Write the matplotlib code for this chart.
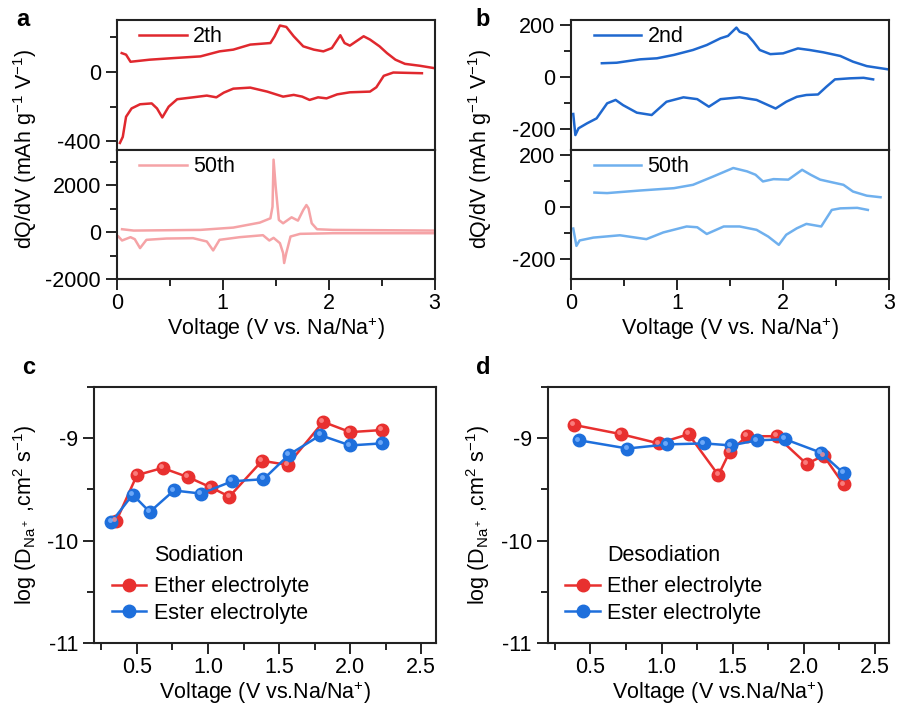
import numpy as np
import matplotlib
matplotlib.use('Agg')
import matplotlib.pyplot as plt
import matplotlib.transforms as mtransforms
from matplotlib.ticker import MultipleLocator

plt.rcParams['font.family'] = ['Liberation Sans', 'DejaVu Sans']
plt.rcParams['mathtext.fontset'] = 'custom'
plt.rcParams['mathtext.rm'] = 'Liberation Sans'
plt.rcParams['mathtext.it'] = 'Liberation Sans:italic'
plt.rcParams['axes.unicode_minus'] = False

# ---- panel a: dQ/dV, 2th cycle ----
a2_chg_v = [0.047, 0.088, 0.13, 0.31, 0.53, 0.79, 0.97, 1.10, 1.26, 1.45, 1.49, 1.54, 1.60, 1.67, 1.76,
            1.86, 1.95, 2.03, 2.11, 2.15, 2.20, 2.26, 2.33, 2.39, 2.48, 2.55, 2.63, 2.72, 2.86, 3.0]
a2_chg_q = [108, 99, 58, 70, 79, 89, 118, 128, 157, 166, 205, 267, 259, 205, 147,
            128, 118, 137, 211, 166, 151, 176, 205, 186, 147, 108, 70, 46, 35, 21]
a2_dis_v = [0.03, 0.057, 0.088, 0.14, 0.22, 0.33, 0.38, 0.43, 0.49, 0.57, 0.72, 0.85, 0.94, 1.01, 1.10,
            1.26, 1.42, 1.57, 1.67, 1.75, 1.82, 1.90, 1.98, 2.08, 2.20, 2.39, 2.45, 2.52, 2.61, 2.88]
a2_dis_q = [-410, -375, -259, -211, -187, -182, -211, -263, -201, -158, -147, -137, -147, -120, -97,
            -91, -114, -143, -133, -143, -162, -147, -153, -130, -118, -114, -89, -23, -4, -8]

# ---- panel a: dQ/dV, 50th cycle ----
a50_chg_v = [0.05, 0.16, 0.79, 1.10, 1.35, 1.45, 1.47, 1.48, 1.50, 1.53, 1.57, 1.65, 1.71, 1.76, 1.79,
             1.81, 1.84, 1.89, 2.04, 3.0]
a50_chg_q = [127, 70, 99, 197, 408, 591, 1084, 3084, 1929, 521, 380, 634, 493, 943, 1155,
             1014, 380, 127, 99, 70]
a50_dis_v = [0.016, 0.05, 0.13, 0.17, 0.22, 0.28, 0.47, 0.72, 0.85, 0.91, 0.97, 1.16, 1.38, 1.44, 1.48,
             1.54, 1.57, 1.58, 1.60, 1.64, 1.73, 2.04, 3.0]
a50_dis_q = [-183, -352, -211, -296, -676, -324, -268, -253, -394, -774, -324, -211, -127, -352, -239,
             -465, -887, -1310, -887, -183, -70, -42, -42]

# ---- panel b: dQ/dV, 2nd cycle ----
b2_chg_v = [0.29, 0.43, 0.65, 0.81, 0.97, 1.15, 1.28, 1.41, 1.48, 1.56, 1.59, 1.66, 1.72, 1.78, 1.88,
            2.00, 2.14, 2.25, 2.38, 2.54, 2.66, 2.79, 3.0]
b2_chg_q = [53, 55, 68, 72, 85, 104, 123, 149, 158, 190, 174, 164, 136, 104, 88,
            91, 110, 104, 95, 81, 59, 42, 29]
b2_dis_v = [0.02, 0.04, 0.07, 0.15, 0.24, 0.34, 0.42, 0.49, 0.62, 0.76, 0.90, 1.06, 1.19, 1.30, 1.41,
            1.59, 1.75, 1.93, 2.03, 2.13, 2.22, 2.33, 2.41, 2.49, 2.63, 2.76, 2.85]
b2_dis_q = [-142, -223, -197, -178, -159, -101, -88, -108, -137, -146, -95, -78, -85, -114, -85,
            -78, -88, -121, -95, -76, -69, -67, -37, -9, -5, -3, -9]

# ---- panel b: dQ/dV, 50th cycle ----
b50_chg_v = [0.22, 0.34, 0.65, 0.97, 1.15, 1.34, 1.53, 1.66, 1.74, 1.81, 1.91, 2.05, 2.18, 2.26, 2.35,
             2.47, 2.57, 2.66, 2.79, 2.92]
b50_chg_q = [55, 53, 63, 72, 85, 117, 150, 137, 124, 98, 107, 105, 143, 124, 105,
             94, 85, 59, 43, 37]
b50_dis_v = [0.02, 0.05, 0.08, 0.21, 0.46, 0.71, 0.87, 1.09, 1.19, 1.28, 1.44, 1.59, 1.75, 1.86, 1.96,
             2.03, 2.13, 2.22, 2.36, 2.46, 2.54, 2.70, 2.80]
b50_dis_q = [-84, -151, -130, -119, -110, -125, -99, -76, -79, -105, -76, -76, -89, -115, -147,
             -108, -83, -66, -76, -12, -6, -4, -12]

# ---- panel c: sodiation diffusion coefficients ----
c_ether_v = [0.354, 0.50, 0.68, 0.86, 1.02, 1.15, 1.38, 1.56, 1.81, 2.00, 2.22]
c_ether_d = [-9.81, -9.36, -9.29, -9.38, -9.48, -9.57, -9.22, -9.26, -8.84, -8.94, -8.92]
c_ester_v = [0.32, 0.47, 0.59, 0.76, 0.95, 1.17, 1.39, 1.57, 1.79, 2.00, 2.22]
c_ester_d = [-9.82, -9.55, -9.72, -9.51, -9.54, -9.42, -9.40, -9.16, -8.97, -9.07, -9.05]

# ---- panel d: desodiation diffusion coefficients ----
d_ether_v = [0.386, 0.716, 0.98, 1.19, 1.40, 1.48, 1.60, 1.81, 2.02, 2.14, 2.28]
d_ether_d = [-8.87, -8.96, -9.05, -8.96, -9.36, -9.13, -8.98, -8.98, -9.25, -9.17, -9.45]
d_ester_v = [0.42, 0.76, 1.04, 1.30, 1.49, 1.67, 1.87, 2.12, 2.28]
d_ester_d = [-9.02, -9.10, -9.06, -9.05, -9.07, -9.02, -9.01, -9.14, -9.34]

RED = '#e0282e'
PINK = '#f5a3a6'
BLUE = '#1f68cf'
LBLUE = '#6fb0ee'
MRED = '#e8302f'
MBLUE = '#1e6fdc'
FS = 15.5

fig = plt.figure(figsize=(8.98, 7.07), dpi=100)


def style(ax, xmaj, xmin, ymaj, ymin):
    ax.xaxis.set_major_locator(MultipleLocator(xmaj))
    ax.xaxis.set_minor_locator(MultipleLocator(xmin))
    ax.yaxis.set_major_locator(MultipleLocator(ymaj))
    ax.yaxis.set_minor_locator(MultipleLocator(ymin))
    ax.tick_params(which='major', direction='out', length=8, width=1.2, labelsize=FS, top=False, right=False)
    ax.tick_params(which='minor', direction='out', length=5, width=1.2, top=False, right=False)
    ax.tick_params(axis='x', which='major', pad=2)
    for s in ax.spines.values():
        s.set_linewidth(1.5)
        s.set_color('#222222')


# panel a
a_top = fig.add_axes([0.130, 0.788, 0.354, 0.184])
a_bot = fig.add_axes([0.130, 0.605, 0.354, 0.183])
a_top.plot(a2_chg_v, a2_chg_q, color=RED, lw=1.8, label='2th')
a_top.plot(a2_dis_v, a2_dis_q, color=RED, lw=1.8)
a_bot.plot(a50_chg_v, a50_chg_q, color=PINK, lw=1.8, label='50th')
a_bot.plot(a50_dis_v, a50_dis_q, color=PINK, lw=1.8)
a_top.set_ylim(-450, 300)
a_bot.set_ylim(-2000, 3500)
style(a_top, 1, 0.5, 400, 200)
style(a_bot, 1, 0.5, 2000, 1000)
a_top.tick_params(axis='x', which='both', bottom=False, labelbottom=False)

# panel b
b_top = fig.add_axes([0.636, 0.788, 0.354, 0.184])
b_bot = fig.add_axes([0.636, 0.605, 0.354, 0.183])
b_top.plot(b2_chg_v, b2_chg_q, color=BLUE, lw=1.8, label='2nd')
b_top.plot(b2_dis_v, b2_dis_q, color=BLUE, lw=1.8)
b_bot.plot(b50_chg_v, b50_chg_q, color=LBLUE, lw=1.8, label='50th')
b_bot.plot(b50_dis_v, b50_dis_q, color=LBLUE, lw=1.8)
b_top.set_ylim(-280, 220)
b_bot.set_ylim(-280, 220)
style(b_top, 1, 0.5, 200, 100)
style(b_bot, 1, 0.5, 200, 100)
b_top.tick_params(axis='x', which='both', bottom=False, labelbottom=False)

for ax in (a_top, a_bot, b_top, b_bot):
    ax.set_xlim(0, 3)
    ax.legend(loc='upper left', bbox_to_anchor=(0.03, 1.05), frameon=False, fontsize=FS,
              handlelength=2.2, handletextpad=0.3, borderaxespad=0.2)
for ax in (a_bot, b_bot):
    ax.set_xlabel('Voltage (V vs. Na/Na$^{+}$)', fontsize=FS, labelpad=1)

fig.text(0.028, 0.79, 'dQ/dV (mAh g$^{-1}$ V$^{-1}$)', rotation=90, ha='center', va='center', fontsize=FS)
fig.text(0.535, 0.79, 'dQ/dV (mAh g$^{-1}$ V$^{-1}$)', rotation=90, ha='center', va='center', fontsize=FS)


# panels c and d
def diff_panel(rect, ev, ed, sv, sd, title):
    ax = fig.add_axes(rect)
    ax.plot(ev, ed, color=MRED, lw=1.8, marker='o', ms=9, mfc=MRED, mec=MRED, label='Ether electrolyte')
    ax.plot(sv, sd, color=MBLUE, lw=1.8, marker='o', ms=9, mfc=MBLUE, mec=MBLUE, label='Ester electrolyte')
    # soft highlight on each sphere, shifted up-left
    shine = mtransforms.offset_copy(ax.transData, fig=fig, x=-1.3, y=1.3, units='points')
    ax.plot(ev, ed, ls='none', marker='o', ms=3.5, mfc='#ff8f8f', mec='none', alpha=0.8, transform=shine)
    ax.plot(sv, sd, ls='none', marker='o', ms=3.5, mfc='#7fb6ff', mec='none', alpha=0.8, transform=shine)
    ax.set_xlim(0.2, 2.6)
    ax.set_ylim(-11, -8.5)
    style(ax, 0.5, 0.25, 1, 0.5)
    ax.set_yticks([-11, -10, -9])
    ax.set_xlabel('Voltage (V vs.Na/Na$^{+}$)', fontsize=FS, labelpad=1)
    ax.set_ylabel('log (D$_{\\mathrm{Na}^+}$ ,cm$^{2}$ s$^{-1}$)', fontsize=FS, labelpad=6)
    ax.legend(loc='lower left', bbox_to_anchor=(-0.005, 0.0), frameon=False, fontsize=FS,
              handlelength=1.6, handletextpad=0.35, labelspacing=0.25)
    ax.text(0.175, 0.34, title, transform=ax.transAxes, fontsize=FS, ha='left', va='center')
    return ax


diff_panel([0.105, 0.0905, 0.380, 0.362], c_ether_v, c_ether_d, c_ester_v, c_ester_d, 'Sodiation')
diff_panel([0.610, 0.0905, 0.380, 0.362], d_ether_v, d_ether_d, d_ester_v, d_ester_d, 'Desodiation')

for lbl, x, y in [('a', 0.018, 0.972), ('b', 0.530, 0.972), ('c', 0.025, 0.480), ('d', 0.530, 0.480)]:
    fig.text(x, y, lbl, fontsize=17, fontweight='bold', ha='left', va='center')

fig.savefig('out.png', dpi=100)
